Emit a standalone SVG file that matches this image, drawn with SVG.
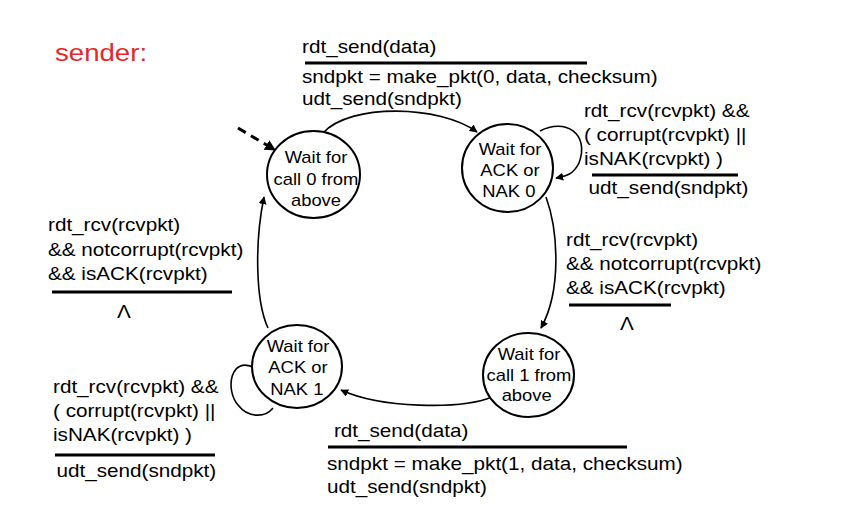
<svg xmlns="http://www.w3.org/2000/svg" width="846" height="516" viewBox="0 0 846 516">
<defs>
<marker id="ah" viewBox="0 0 10 10" refX="9" refY="5" markerWidth="8" markerHeight="8" orient="auto-start-reverse" markerUnits="userSpaceOnUse">
<path d="M0,0 L10,5 L0,10 z" fill="#000"/>
</marker>
<marker id="ahb" viewBox="0 0 10 10" refX="9" refY="5" markerWidth="11" markerHeight="11" orient="auto" markerUnits="userSpaceOnUse">
<path d="M0,0 L10,5 L0,10 z" fill="#000"/>
</marker>
<style>
.st{fill:#fff;stroke:#000;stroke-width:2}
.sl{font-family:"Liberation Sans",Arial,sans-serif;font-size:16px;fill:#000;text-anchor:middle}
.lb{font-family:"Liberation Sans",Arial,sans-serif;font-size:18px;fill:#000}
.bar{stroke:#000;stroke-width:3}
.c{fill:none;stroke:#000;stroke-width:1.6}
</style>
</defs>
<rect width="846" height="516" fill="#fff"/>
<text x="55" y="61" font-family="Liberation Sans,Arial,sans-serif" font-size="24" fill="#e8262a" transform="matrix(1.15 0 0 1 -8.25 0)">sender:</text>

<g id="connectors">
<path class="c" d="M238,128 L275,150" style="stroke-width:3;stroke-dasharray:9,6" marker-end="url(#ahb)"/>
<path class="c" d="M323,133 C350,103 440,105 477,132" marker-end="url(#ah)"/>
<path class="c" d="M540,131 C565,118 590,133 579,163 C573,175 566,176 556,178" marker-end="url(#ah)"/>
<path class="c" d="M546,197 C558,230 562,290 541,328" marker-end="url(#ah)"/>
<path class="c" d="M492,397 C460,410 380,408 341,390" marker-end="url(#ah)"/>
<path class="c" d="M255,368 C230,355 225,390 238,405 C248,418 265,418 273,408"/>
<path class="c" d="M268,328 C255,300 255,240 264,197" marker-end="url(#ah)"/>
</g>

<g id="s0"><ellipse class="st" cx="313.5" cy="174.5" rx="46.5" ry="43.5"/>
<g transform="matrix(1.15 0 0 1 -47.4 0)"><text class="sl" x="316" y="163">Wait for</text><text class="sl" x="316" y="185">call 0 from</text><text class="sl" x="316" y="206">above</text></g></g>
<g id="s1"><ellipse class="st" cx="507.5" cy="168" rx="45.5" ry="44"/>
<g transform="matrix(1.15 0 0 1 -76.5 0)"><text class="sl" x="510" y="155">Wait for</text><text class="sl" x="510" y="176">ACK or</text><text class="sl" x="509" y="197">NAK 0</text></g></g>
<g id="s2"><ellipse class="st" cx="528.5" cy="375" rx="45.5" ry="42"/>
<g transform="matrix(1.15 0 0 1 -79.35 0)"><text class="sl" x="529" y="360">Wait for</text><text class="sl" x="529" y="381">call 1 from</text><text class="sl" x="527" y="401">above</text></g></g>
<g id="s3"><ellipse class="st" cx="297" cy="366.5" rx="45" ry="41.5"/>
<g transform="matrix(1.15 0 0 1 -44.7 0)"><text class="sl" x="298" y="352">Wait for</text><text class="sl" x="298" y="373">ACK or</text><text class="sl" x="297" y="395">NAK 1</text></g></g>

<g id="lbl-top">
<g transform="matrix(1.15 0 0 1 -45.3 0)">
<text class="lb" x="302" y="53">rdt_send(data)</text>
<text class="lb" x="302" y="83">sndpkt = make_pkt(0, data, checksum)</text>
<text class="lb" x="302" y="105">udt_send(sndpkt)</text>
</g>
<line class="bar" x1="305" y1="63" x2="587" y2="63"/>
</g>
<g id="lbl-tr">
<g transform="matrix(1.15 0 0 1 -87.6 0)">
<text class="lb" x="584" y="117">rdt_rcv(rcvpkt) &amp;&amp;</text>
<text class="lb" x="584" y="141">( corrupt(rcvpkt) ||</text>
<text class="lb" x="584" y="165">isNAK(rcvpkt) )</text>
<text class="lb" x="588" y="194">udt_send(sndpkt)</text>
</g>
<line class="bar" x1="592" y1="175" x2="738" y2="175"/>
</g>
<g id="lbl-r">
<g transform="matrix(1.15 0 0 1 -84.9 0)">
<text class="lb" x="566" y="246">rdt_rcv(rcvpkt)</text>
<text class="lb" x="566" y="270">&amp;&amp; notcorrupt(rcvpkt)</text>
<text class="lb" x="566" y="294">&amp;&amp; isACK(rcvpkt)</text>
<text class="lb" x="613" y="330">Λ</text>
</g>
<line class="bar" x1="569" y1="305" x2="671" y2="305"/>
</g>
<g id="lbl-l">
<g transform="matrix(1.15 0 0 1 -7.2 0)">
<text class="lb" x="48" y="231">rdt_rcv(rcvpkt)</text>
<text class="lb" x="48" y="256">&amp;&amp; notcorrupt(rcvpkt)</text>
<text class="lb" x="48" y="280">&amp;&amp; isACK(rcvpkt)</text>
<text class="lb" x="108" y="318">Λ</text>
</g>
<line class="bar" x1="52" y1="292" x2="232" y2="292"/>
</g>
<g id="lbl-bl">
<g transform="matrix(1.15 0 0 1 -7.95 0)">
<text class="lb" x="53" y="393">rdt_rcv(rcvpkt) &amp;&amp;</text>
<text class="lb" x="53" y="417">( corrupt(rcvpkt) ||</text>
<text class="lb" x="53" y="441">isNAK(rcvpkt) )</text>
<text class="lb" x="56" y="477">udt_send(sndpkt)</text>
</g>
<line class="bar" x1="55" y1="455" x2="215" y2="455"/>
</g>
<g id="lbl-b">
<g transform="matrix(1.15 0 0 1 -49.05 0)">
<text class="lb" x="333" y="437">rdt_send(data)</text>
<text class="lb" x="327" y="470">sndpkt = make_pkt(1, data, checksum)</text>
<text class="lb" x="327" y="493">udt_send(sndpkt)</text>
</g>
<line class="bar" x1="328" y1="447" x2="627" y2="447"/>
</g>
</svg>
